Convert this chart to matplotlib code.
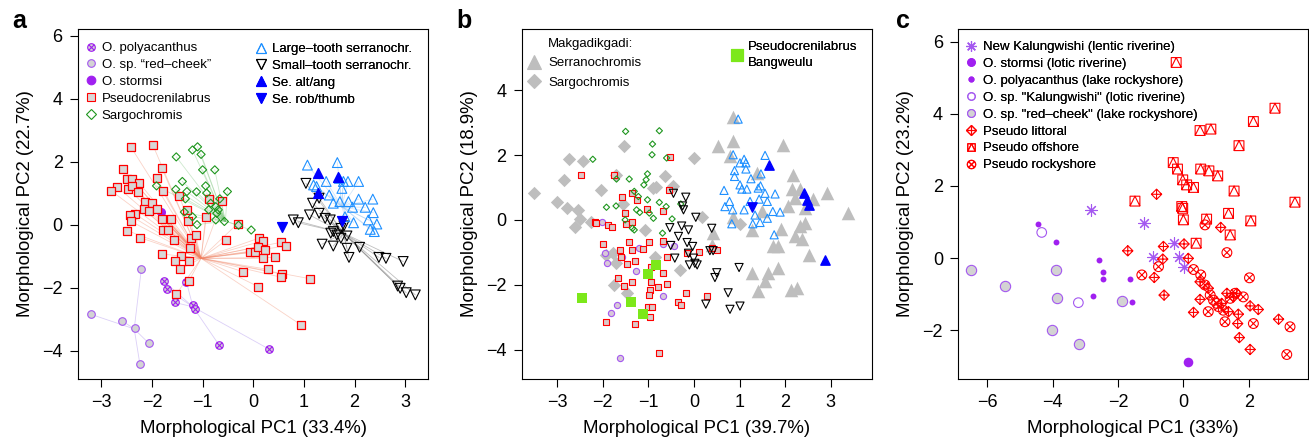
import numpy as np
import matplotlib.pyplot as plt
from matplotlib.path import Path
from matplotlib.lines import Line2D

plt.rcParams['font.family'] = ['Liberation Sans', 'DejaVu Sans']

# ---------------- panel a data ----------------
a_pseudo_x = [-2.41, -1.98, -2.58, -1.81, -2.50, -2.40, -2.25, -1.91, -2.69, -2.80, -2.47, -2.39, -2.28,
              -1.79, -1.46, -2.13, -1.99, -2.16, -2.06, -1.90, -2.34, -2.43, -2.41, -2.49, -2.24, -1.80,
              -1.63, -1.79, -1.69, -1.57, -1.31, -1.28, -1.22, -1.14, -1.25, -1.81, -1.42, -1.54, -1.27,
              -1.45, -1.27, -1.52, -0.88, -0.94, -0.61, -0.53, -0.31, 0.11, 0.20, -0.07, 0.03, 0.10, 0.24,
              0.20, 0.42, 0.55, 0.64, -0.21, 0.29, 0.56, 0.55, 0.10, 1.13, 0.94]
a_pseudo_y = [2.46, 2.53, 1.78, 1.82, 1.46, 1.46, 1.33, 1.50, 1.21, 1.08, 1.14, 1.25, 1.04,
              1.08, 0.93, 0.74, 0.70, 0.51, 0.44, 0.50, 0.36, 0.30, 0.11, -0.18, -0.40, 0.20,
              0.20, -0.15, -0.16, -0.48, 0.47, 0.13, -0.42, -0.32, -0.74, -0.92, -0.98, -1.13, -1.13,
              -1.41, -1.78, -2.20, 0.83, 0.26, 0.76, -0.48, 0.04, -0.42, -0.50, -0.85, -0.86, -0.69, -0.81,
              -1.06, -1.03, -0.55, -0.67, -1.48, -1.41, -1.56, -1.66, -1.96, -1.71, -3.17]
a_pseudo_centre = (-1.03, -1.06)

a_sargo_x = [-1.20, -1.10, -1.03, -1.52, -1.00, -0.76, -1.91, -1.40, -1.53, -1.31, -0.94, -0.51, -1.12,
             -0.92, -1.34, -0.66, -0.84, -0.74, -0.88, -0.69, -1.36, -1.20, -0.72, -0.74, -0.57, -1.11,
             -0.29, -0.04]
a_sargo_y = [2.38, 2.48, 2.24, 2.16, 1.75, 1.75, 1.24, 1.38, 1.13, 1.06, 1.24, 1.06, 1.05,
             1.01, 0.83, 0.83, 0.69, 0.58, 0.48, 0.48, 0.41, 0.26, 0.37, 0.16, 0.11, 0.01,
             -0.01, -0.16]
a_sargo_centre = (-0.55, 0.12)

a_poly_x = [-1.77, -1.71, -1.55, -1.19, -1.15, -1.32, -0.68, 0.32]
a_poly_y = [-1.78, -2.04, -2.46, -2.54, -2.68, -1.80, -3.80, -3.95]
a_poly_centre = (-1.19, -2.60)

a_redcheek_x = [-2.21, -3.20, -2.59, -2.34, -2.06, -2.24]
a_redcheek_y = [-1.41, -2.84, -3.04, -3.26, -3.76, -4.40]
a_redcheek_centre = (-2.35, -3.30)

a_stormsi_x = [-1.83]
a_stormsi_y = [0.40]

a_large_x = [1.07, 1.66, 1.44, 1.70, 1.78, 2.08, 1.75, 1.25, 1.50, 1.71, 1.88, 2.08, 2.36, 1.96,
             2.21, 2.37, 2.27, 2.44, 1.98, 2.31, 2.39, 1.58, 1.81, 1.19, 1.87]
a_large_y = [1.90, 1.98, 1.38, 1.48, 1.38, 1.38, 1.16, 1.22, 0.95, 0.74, 0.74, 0.82, 0.82, 0.56,
             0.56, 0.39, 0.16, 0.03, 0.07, -0.14, -0.21, 0.69, 0.26, 1.27, 1.38]
a_large_centre = (1.75, 0.58)

a_small_x = [1.04, 1.17, 1.30, 1.11, 1.30, 1.42, 1.52, 1.58, 1.73, 1.79, 0.79, 0.89, 1.36, 1.58,
             1.73, 1.85, 1.89, 2.10, 2.48, 2.62, 2.96, 2.85, 2.90, 3.02, 3.20, 1.65, 1.85, 1.53]
a_small_y = [1.32, 0.69, 0.85, 0.32, 0.37, 0.21, 0.16, -0.21, -0.11, -0.03, 0.16, 0.07, -0.61, -0.67,
             -0.42, -0.74, -1.03, -0.71, -1.03, -1.06, -1.16, -1.94, -2.01, -2.15, -2.22, -0.32, -0.35, -0.26]
a_small_centre = (1.78, -0.26)

a_altang_x = [1.27, 1.27, 1.68]
a_altang_y = [1.66, 1.00, 1.53]
a_robthumb_x = [0.56, 1.75]
a_robthumb_y = [-0.05, 0.13]

# ---------------- panel b data ----------------
b_mserrano_x = [0.85, 0.86, 0.53, 1.95, 0.78, 1.38, 2.17, 2.16, 2.33, 2.22, 2.62, 2.91, 2.07, 2.44,
                3.37, 1.49, 1.27, 1.92, 2.33, 2.44, 2.22, 2.36, 1.74, 1.85, 2.52, 1.28, 1.63, 1.85,
                1.56, 1.41, 2.14, 2.27, 0.41, 0.85, 0.39]
b_mserrano_y = [3.19, 2.42, 2.27, 2.30, 1.96, 1.44, 1.37, 0.95, 0.95, 0.67, 0.64, 0.82, 0.44, 0.36,
                0.21, 0.28, -0.31, -0.28, -0.19, -0.10, -0.51, -0.60, -0.82, -0.82, -1.08, -1.63, -1.65, -1.49,
                -1.88, -2.19, -2.16, -2.11, -0.41, 0.10, -0.77]

b_msargo_x = [-3.51, -3.01, -2.85, -2.74, -2.44, -2.79, -2.54, -2.61, -2.50, -2.03, -2.25, -1.53, -0.01,
              -0.64, -0.83, -1.55, -1.70, -1.77, -1.92, -1.76, -1.48, -1.70, -0.86, -0.31, -0.45, 0.17,
              -0.89, -1.08, 1.01]
b_msargo_y = [0.82, 0.55, 1.24, 1.88, 1.82, 0.36, 0.31, -0.21, 0.03, 0.93, -0.05, 2.27, 1.91,
              1.34, 1.00, 0.48, 1.39, -1.03, -1.08, -2.01, -2.27, -1.34, -1.13, -1.54, 1.06, 0.08,
              0.98, -0.31, -0.12]

b_sargo_x = [-1.50, -0.76, -0.91, -0.92, -0.60, -2.22, -1.02, -1.05, -1.42, -1.70, -1.10, -1.31, -1.22,
             -1.02, -0.76, -0.61, -1.92, -1.71, -1.19, -0.98, -0.89, -1.51, -1.35, -1.31, -0.48, -0.69,
             -0.29, -1.26]
b_sargo_y = [2.73, 2.75, 2.34, 2.01, 1.91, 1.87, 1.42, 1.24, 1.26, 1.26, 1.08, 0.88, 0.72,
             0.62, 0.54, 0.41, 0.39, 0.43, 0.23, 0.21, 0.05, 0.00, -0.26, -0.31, 0.03, -0.41,
             0.49, 0.31]

b_pseudo_x = [-2.47, -1.76, -1.57, -1.26, -1.35, -1.51, -2.17, -2.16, -1.88, -1.79, -1.50, -1.37, -1.02,
              -2.00, -1.62, -1.43, -1.35, -1.11, -0.98, -0.69, -1.60, -1.46, -1.29, -0.95, -0.69, -0.60,
              -0.78, -1.36, -1.53, -1.66, -0.95, -0.96, -0.99, -1.00, -0.91, -0.97, -1.92, -1.29, -0.76,
              -0.36, -0.29, -0.17, 0.28, -0.60, -0.16, 0.10, 0.51, 0.39, -0.54, -0.53, -0.69]
b_pseudo_y = [1.37, 1.37, 0.72, 0.62, 0.82, 0.21, -0.05, -0.10, -0.15, -0.23, -0.12, -0.05, 0.33,
              -0.74, -0.93, -0.67, -0.93, -0.91, -0.69, -0.64, -1.16, -1.37, -1.26, -1.44, -1.65, -1.99,
              -2.06, -1.92, -2.04, -1.80, -1.91, -2.16, -2.32, -2.68, -2.68, -2.99, -3.14, -3.21, -4.10,
              -2.54, -2.63, -2.27, -2.35, -1.15, -1.03, -0.98, -0.93, -0.88, 0.91, 1.94, 0.26]

b_redcheek_x = [-2.01, -1.95, -1.90, -1.81, -1.68, -1.62, -1.27, -1.57, -1.20, -0.67, -0.67, -0.43]
b_redcheek_y = [-0.08, -1.03, -1.32, -2.88, -2.63, -4.27, -1.57, -1.13, -0.88, -2.35, -0.75, -0.82]

b_bangweulu_x = [-2.46, -1.39, -1.11, -1.00, -0.83]
b_bangweulu_y = [-2.40, -2.52, -2.91, -1.67, -1.39]

b_large_x = [0.97, 0.86, 1.10, 1.14, 1.56, 1.01, 0.89, 0.89, 1.14, 1.47, 1.25, 1.01, 1.05, 1.16,
             1.41, 1.46, 0.66, 1.56, 1.78, 0.78, 0.68, 0.85, 1.10, 1.23, 1.43, 1.61, 1.34, 1.73,
             1.89, 1.61, 1.45, 1.29, 0.83, 1.76]
b_large_y = [3.11, 2.01, 1.87, 1.76, 1.99, 1.76, 1.52, 1.34, 1.57, 1.42, 1.27, 1.08, 0.95, 0.95,
             0.98, 1.05, 0.91, 0.82, 0.80, 0.57, 0.41, 0.31, 0.31, 0.57, 0.64, 0.57, 0.15, 0.26,
             0.24, 0.05, -0.08, -0.12, -0.12, -0.46]

b_small_x = [-0.45, -0.18, -0.25, -0.23, 0.04, -0.53, -0.27, -0.12, 0.39, -0.34, -0.51, -0.15, -0.03,
             -0.12, 0.35, 0.42, -0.42, -0.01, 0.02, -0.10, 0.07, 0.50, 0.46, 0.99, 0.75, 0.26, 0.79, 1.01]
b_small_y = [0.82, 0.70, 0.43, 0.31, 0.08, -0.24, -0.19, -0.31, -0.26, -0.51, -0.79, -0.70, -0.82,
             -1.03, -0.95, -0.95, -1.18, -1.18, -1.34, -1.39, -1.39, -1.63, -1.78, -1.47, -2.25, -2.60, -2.76, -2.66]

b_altang_x = [1.65, 2.42, 2.49, 2.53, 2.87]
b_altang_y = [1.68, 0.82, 0.60, 0.46, -1.24]
b_robthumb_x = [1.27]
b_robthumb_y = [0.41]

# ---------------- panel c data ----------------
c_newkal_x = [-2.82, -1.19, -0.29, -0.92, -0.13, 0.02]
c_newkal_y = [1.33, 0.96, 0.43, 0.04, 0.04, -0.24]
c_stormsi_x = [0.13]
c_stormsi_y = [-2.88]
c_poly_x = [-4.43, -3.90, -2.57, -2.45, -2.45, -1.63, -2.75, -1.56]
c_poly_y = [0.94, 0.44, -0.06, -0.38, -0.57, -0.58, -1.05, -1.21]
c_kal_x = [-4.33, -3.21]
c_kal_y = [0.71, -1.24]
c_redcheek_x = [-6.49, -5.45, -3.89, -3.85, -1.89, -4.03, -3.18]
c_redcheek_y = [-0.32, -0.77, -0.32, -1.10, -1.19, -2.00, -2.39]
c_offshore_x = [-0.22, 2.80, 2.14, 0.51, 0.84, 1.70, -0.31, -0.18, 0.53, 0.78, 1.05, -0.02, 0.10,
                0.31, 1.55, -1.48, 3.41, -0.05, -0.02, 1.38, 0.00, 0.71, 2.06, 1.43, 0.39]
c_offshore_y = [5.43, 4.16, 3.79, 3.54, 3.58, 3.12, 2.65, 2.47, 2.47, 2.42, 2.28, 2.17, 2.03,
                1.96, 1.86, 1.58, 1.55, 1.43, 1.38, 1.24, 1.06, 1.08, 1.03, 0.64, 0.41]
c_littoral_x = [-0.82, 1.14, -1.70, -0.61, 0.02, -0.63, 0.15, -0.89, -0.59, 0.31, 0.51, 1.33, 1.63,
                1.53, 2.04, 2.29, 1.68, 1.38, 1.66, 1.71, 2.04, 2.91, 1.17, 0.51, 0.76]
c_littoral_y = [1.77, 0.85, 0.20, 0.32, 0.39, -0.03, -0.01, -0.54, -1.03, -1.51, -1.15, -0.98, -0.98,
                -1.08, -1.33, -1.43, -1.56, -1.49, -1.82, -2.21, -2.54, -1.70, -1.26, -0.66, -0.84]
c_rocky_x = [-1.27, -0.76, 1.33, 2.02, 0.66, 0.31, 0.53, 0.66, 0.82, 0.76, 1.07, 1.22, 1.27, 1.43,
             1.58, 1.83, 2.14, 3.26, 3.16, 0.92, 1.02]
c_rocky_y = [-0.47, -0.24, 0.15, -0.55, 0.92, -0.32, -0.47, -0.75, -1.03, -1.49, -1.35, -1.45, -1.77, -1.12,
             -0.98, -1.08, -1.82, -1.91, -2.68, -1.17, -1.26]

# ---------------- colours / markers ----------------
PURPLE = '#A020F0'
PURPLE_L = '#A458F0'
RED = '#FF0000'
GREEN = '#1E961E'
DBLUE = '#1E90FF'
BLUE = '#0000FF'
LGRAY = '#D3D3D3'
MGRAY = '#BEBEBE'
LIME = '#7CE81A'

M, L, C = Path.MOVETO, Path.LINETO, Path.CLOSEPOLY
dd = 0.7071
circ_x = Path.make_compound_path(Path.unit_circle(),
                                 Path([(-dd, -dd), (dd, dd)]), Path([(-dd, dd), (dd, -dd)]))
sq_tri = Path([(-1, -1), (1, -1), (1, 1), (-1, 1), (-1, -1), (-1, -1), (0, 1), (1, -1)],
              [M, L, L, L, C, M, L, L])
dia_plus = Path([(0, 1), (1, 0), (0, -1), (-1, 0), (0, 1), (-1, 0), (1, 0), (0, -1), (0, 1)],
                [M, L, L, L, C, M, L, M, L])
asterisk = (8, 2, 0)

W = 1309.0
H = 441.0
fig = plt.figure(figsize=(W / 100, H / 100), dpi=100)


def make_ax(left_px, width_px, xlim, ylim, xticks, yticks, xlabel, ylabel):
    ax = fig.add_axes([left_px / W, 62 / H, width_px / W, 350 / H])
    ax.set_xlim(*xlim)
    ax.set_ylim(*ylim)
    ax.set_xticks(xticks)
    ax.set_yticks(yticks)
    ax.tick_params(direction='out', length=6, width=0.8, labelsize=13, pad=5)
    for s in ax.spines.values():
        s.set_linewidth(0.8)
    ax.set_xlabel(xlabel, fontsize=13.4, labelpad=6)
    ax.set_ylabel(ylabel, fontsize=13.4, labelpad=6)
    return ax


def h(marker, ms, fc, ec, mew=0.8):
    return Line2D([], [], linestyle='none', marker=marker, markersize=ms,
                  markerfacecolor=fc, markeredgecolor=ec, markeredgewidth=mew)


def legend(ax, handles, labels, mx, top, pad, spacing, fs=9.5):
    off = fs * 100 / 72 / 2
    lg = ax.legend(handles, labels, loc='upper left', bbox_to_anchor=((mx - off) / W, 1 - top / H),
                   bbox_transform=fig.transFigure, frameon=False, fontsize=fs, borderpad=0,
                   borderaxespad=0, handlelength=1.0, handletextpad=pad, labelspacing=spacing)
    ax.add_artist(lg)
    return lg


def spider(ax, xs, ys, centre, color, alpha):
    for x, y in zip(xs, ys):
        ax.plot([x, centre[0]], [y, centre[1]], color=color, alpha=alpha, lw=0.6, zorder=1)


# ---------------- panel a ----------------
ax = make_ax(78, 350, (-3.46, 3.45), (-4.89, 6.22), range(-3, 4), range(-4, 7, 2),
             'Morphological PC1 (33.4%)', 'Morphological PC2 (22.7%)')
spider(ax, a_pseudo_x, a_pseudo_y, a_pseudo_centre, '#F08060', 0.35)
spider(ax, a_sargo_x, a_sargo_y, a_sargo_centre, '#70C070', 0.35)
spider(ax, a_poly_x, a_poly_y, a_poly_centre, '#B8A0F0', 0.5)
spider(ax, a_redcheek_x, a_redcheek_y, a_redcheek_centre, '#B8A0F0', 0.5)
spider(ax, a_small_x, a_small_y, a_small_centre, '#808080', 0.5)
spider(ax, a_large_x, a_large_y, a_large_centre, '#90C0F0', 0.4)
ax.scatter(a_redcheek_x, a_redcheek_y, s=30, marker='o', facecolor=LGRAY, edgecolor=PURPLE_L, lw=0.8, zorder=3)
ax.scatter(a_poly_x, a_poly_y, s=30, marker=circ_x, facecolor=LGRAY, edgecolor=PURPLE, lw=0.8, zorder=3)
ax.scatter(a_stormsi_x, a_stormsi_y, s=30, marker='o', color=PURPLE, zorder=3)
ax.scatter(a_pseudo_x, a_pseudo_y, s=30, marker='s', facecolor='#D8D8D8', edgecolor=RED, lw=0.9, zorder=3)
ax.scatter(a_sargo_x, a_sargo_y, s=17, marker='D', facecolor='none', edgecolor=GREEN, lw=0.8, zorder=3)
ax.scatter(a_small_x, a_small_y, s=50, marker='v', facecolor='none', edgecolor='black', lw=0.8, zorder=3)
ax.scatter(a_large_x, a_large_y, s=50, marker='^', facecolor='none', edgecolor=DBLUE, lw=0.8, zorder=3)
ax.scatter(a_altang_x, a_altang_y, s=50, marker='^', color=BLUE, zorder=3)
ax.scatter(a_robthumb_x, a_robthumb_y, s=50, marker='v', color=BLUE, zorder=3)
legend(ax, [h(circ_x, 5.5, LGRAY, PURPLE), h('o', 5.5, LGRAY, PURPLE_L), h('o', 6.2, PURPLE, PURPLE),
            h('s', 5.6, '#D8D8D8', RED), h('D', 4.6, 'none', GREEN)],
       ['O. polyacanthus', 'O. sp. \u201cred\u2013cheek\u201d', 'O. stormsi', 'Pseudocrenilabrus', 'Sargochromis'],
       91, 42, 0.31, 0.35)
legend(ax, [h('^', 7, 'none', DBLUE), h('v', 7, 'none', 'black'), h('^', 7, BLUE, BLUE), h('v', 7, BLUE, BLUE)],
       ['Large\u2013tooth serranochr.', 'Small\u2013tooth serranochr.', 'Se. alt/ang', 'Se. rob/thumb'],
       260.7, 43, 0.33, 0.35)

# ---------------- panel b ----------------
ax = make_ax(521.7, 350, (-3.78, 3.90), (-4.91, 5.89), range(-3, 4), range(-4, 5, 2),
             'Morphological PC1 (39.7%)', 'Morphological PC2 (18.9%)')
ax.scatter(b_mserrano_x, b_mserrano_y, s=95, marker='^', color=MGRAY, lw=0, zorder=2)
ax.scatter(b_msargo_x, b_msargo_y, s=46, marker='D', color=MGRAY, lw=0, zorder=2)
ax.scatter(b_redcheek_x, b_redcheek_y, s=20, marker='o', facecolor='#D8C8D8', edgecolor=PURPLE_L, lw=0.8, zorder=3)
ax.scatter(b_pseudo_x, b_pseudo_y, s=16, marker='s', facecolor='#DCC8C8', edgecolor=RED, lw=0.8, zorder=3)
ax.scatter(b_sargo_x, b_sargo_y, s=10, marker='D', facecolor='none', edgecolor=GREEN, lw=0.8, zorder=3)
ax.scatter(b_small_x, b_small_y, s=34, marker='v', facecolor='none', edgecolor='black', lw=0.8, zorder=3)
ax.scatter(b_large_x, b_large_y, s=34, marker='^', facecolor='none', edgecolor=DBLUE, lw=0.8, zorder=3)
ax.scatter(b_altang_x, b_altang_y, s=45, marker='^', color=BLUE, zorder=3)
ax.scatter(b_robthumb_x, b_robthumb_y, s=45, marker='v', color=BLUE, zorder=3)
ax.scatter(b_bangweulu_x, b_bangweulu_y, s=48, marker='s', color=LIME, lw=0, zorder=4)
legend(ax, [Line2D([], [], linestyle='none', marker=''), h('^', 10, MGRAY, MGRAY), h('D', 7.1, MGRAY, MGRAY)],
       ['Makgadikgadi:', 'Serranochromis', 'Sargochromis'], 534.3, 37.5, 0.56, 0.55)
lg = legend(ax, [h('s', 8.6, LIME, LIME)], ['Pseudocrenilabrus\nBangweulu'], 737.3, 40.5, 0.33, 0.1)
lg.get_texts()[0].set_linespacing(1.5)

# ---------------- panel c ----------------
ax = make_ax(958.3, 349.4, (-6.88, 3.80), (-3.36, 6.36), range(-6, 3, 2), range(-2, 7, 2),
             'Morphological PC1 (33%)', 'Morphological PC2 (23.2%)')
ax.scatter(c_redcheek_x, c_redcheek_y, s=55, marker='o', facecolor=LGRAY, edgecolor=PURPLE_L, lw=0.8, zorder=3)
ax.scatter(c_kal_x, c_kal_y, s=48, marker='o', facecolor='none', edgecolor=PURPLE_L, lw=0.8, zorder=3)
ax.scatter(c_poly_x, c_poly_y, s=18, marker='o', color=PURPLE, lw=0, zorder=3)
ax.scatter(c_stormsi_x, c_stormsi_y, s=48, marker='o', color=PURPLE, lw=0, zorder=3)
ax.scatter(c_newkal_x, c_newkal_y, s=70, marker=asterisk, color=PURPLE_L, lw=0.8, zorder=3)
ax.scatter(c_offshore_x, c_offshore_y, s=50, marker=sq_tri, facecolor='none', edgecolor=RED, lw=0.8, zorder=3)
ax.scatter(c_littoral_x, c_littoral_y, s=55, marker=dia_plus, facecolor='none', edgecolor=RED, lw=0.8, zorder=3)
ax.scatter(c_rocky_x, c_rocky_y, s=50, marker=circ_x, facecolor='none', edgecolor=RED, lw=0.8, zorder=3)
legend(ax, [h(asterisk, 7.5, PURPLE_L, PURPLE_L), h('o', 5.4, PURPLE, PURPLE), h('o', 3.5, PURPLE, PURPLE),
            h('o', 5.4, 'none', PURPLE_L), h('o', 5.6, LGRAY, PURPLE_L), h(dia_plus, 7.2, 'none', RED),
            h(sq_tri, 5.4, 'none', RED), h(circ_x, 6.0, 'none', RED)],
       ['New Kalungwishi (lentic riverine)', 'O. stormsi (lotic riverine)', 'O. polyacanthus (lake rockyshore)',
        'O. sp. "Kalungwishi" (lotic riverine)', 'O. sp. "red\u2013cheek" (lake rockyshore)',
        'Pseudo littoral', 'Pseudo offshore', 'Pseudo rockyshore'],
       971, 41, 0.43, 0.35)

for lab, xp in (('a', 12.3), ('b', 456), ('c', 896)):
    fig.text(xp / W, 1 - 28.5 / H, lab, fontsize=18, fontweight='bold', ha='left', va='baseline')

fig.savefig('out.png', dpi=100)
